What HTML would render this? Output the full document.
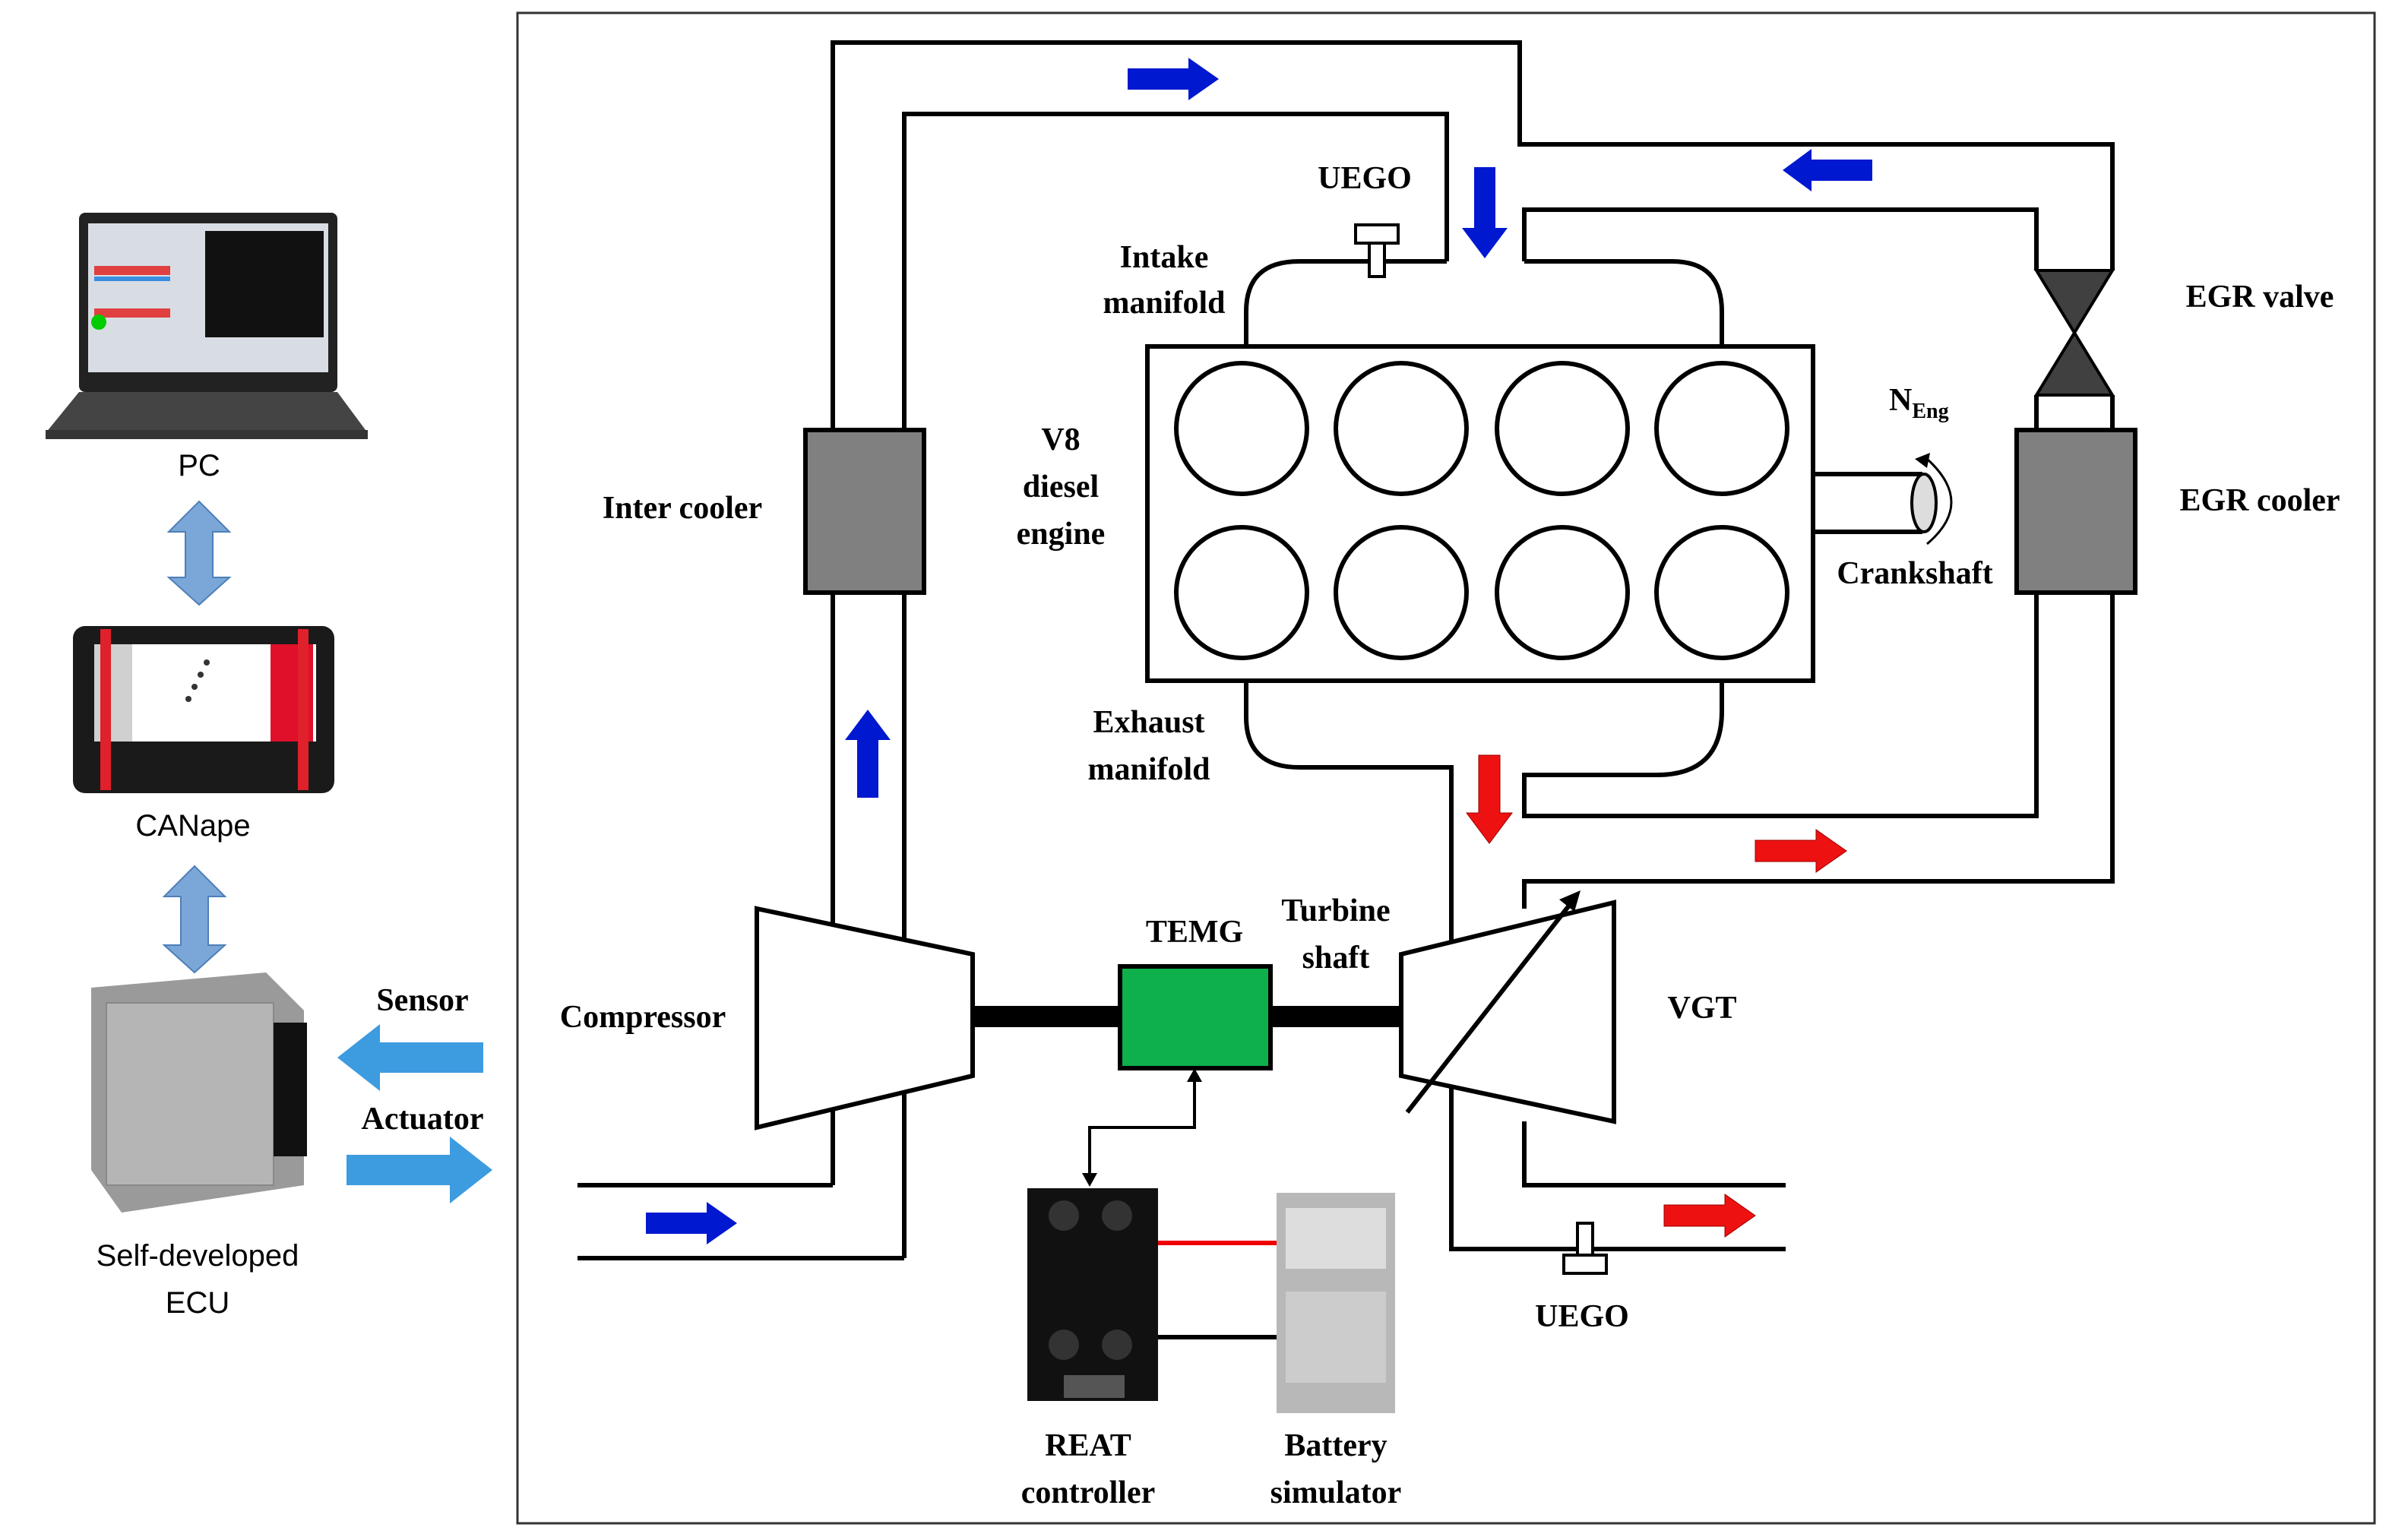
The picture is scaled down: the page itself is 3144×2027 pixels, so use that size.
<!DOCTYPE html>
<html><head><meta charset="utf-8"><style>html,body{margin:0;padding:0;background:#fff}svg{display:block}</style></head><body>
<svg width="3144" height="2027" viewBox="0 0 1572 1013.5" preserveAspectRatio="none" xmlns="http://www.w3.org/2000/svg" font-family="Liberation Serif, serif" font-weight="bold">
<rect x="0" y="0" width="1572" height="1014" fill="#fff"/>
<rect x="340.5" y="8.5" width="1222" height="994" fill="none" stroke="#333" stroke-width="1.5"/>
<g fill="none" stroke="#000" stroke-width="3">
<polyline points="548,780 548,28 1000,28 1000,95 1390,95 1390,178"/>
<polyline points="595,828 595,75 952,75 952,172"/>
<polyline points="1003,172 1003,138 1340,138 1340,178"/>
<path d="M820,228 L820,205 Q820,172 855,172 L952,172"/>
<path d="M1003,172 L1100,172 Q1133,172 1133,205 L1133,228"/>
<path d="M820,448 L820,472 Q820,505 855,505 L955,505 L955,822 L1175,822"/>
<path d="M1133,448 L1133,468 Q1133,510 1090,510 L1003,510 L1003,537 L1340,537 L1340,390"/>
<polyline points="1003,598 1003,580 1390,580 1390,390"/>
<polyline points="1003,738 1003,780 1175,780"/>
<line x1="380" y1="780" x2="548" y2="780"/>
<line x1="380" y1="828" x2="595" y2="828"/>
<line x1="1340" y1="260" x2="1340" y2="283"/>
<line x1="1390" y1="260" x2="1390" y2="283"/>
</g>
<rect x="530" y="283" width="78" height="107" fill="#808080" stroke="#000" stroke-width="3"/>
<rect x="1327" y="283" width="78" height="107" fill="#808080" stroke="#000" stroke-width="3"/>
<polygon points="1340,178 1390,178 1365,219 1390,260 1340,260 1365,219" fill="#404040" stroke="#000" stroke-width="2"/>
<rect x="755" y="228" width="438" height="220" fill="#fff" stroke="#000" stroke-width="3"/>
<g fill="none" stroke="#000" stroke-width="3">
<circle cx="817" cy="282" r="43"/><circle cx="922" cy="282" r="43"/><circle cx="1028" cy="282" r="43"/><circle cx="1133" cy="282" r="43"/>
<circle cx="817" cy="390" r="43"/><circle cx="922" cy="390" r="43"/><circle cx="1028" cy="390" r="43"/><circle cx="1133" cy="390" r="43"/>
<path d="M1193,312 L1265,312 M1193,350 L1265,350"/>
</g>
<ellipse cx="1266" cy="331" rx="8" ry="19" fill="#ddd" stroke="#000" stroke-width="2"/>
<path d="M1268,302 Q1300,331 1268,358" fill="none" stroke="#000" stroke-width="1.5"/>
<polygon points="1260,302 1270,298 1268,308" fill="#000"/>
<polygon points="498,598 640,628 640,708 498,742" fill="#fff" stroke="#000" stroke-width="3"/>
<polygon points="922,628 1062,594 1062,738 922,708" fill="#fff" stroke="#000" stroke-width="3"/>
<rect x="640" y="662" width="282" height="14" fill="#000"/>
<rect x="737" y="636" width="99" height="67" fill="#0db04b" stroke="#000" stroke-width="3"/>
<line x1="926" y1="732" x2="1034" y2="594" stroke="#000" stroke-width="3"/>
<polygon points="1040,586 1026,592 1036,600" fill="#000"/>
<polyline points="786,708 786,742 717,742 717,776" fill="none" stroke="#000" stroke-width="2"/>
<polygon points="786,703 781,712 791,712" fill="#000"/><polygon points="717,781 712,772 722,772" fill="#000"/>
<rect x="676" y="782" width="86" height="140" fill="#111"/>
<circle cx="700" cy="800" r="10" fill="#333"/><circle cx="735" cy="800" r="10" fill="#333"/>
<circle cx="700" cy="885" r="10" fill="#333"/><circle cx="735" cy="885" r="10" fill="#333"/>
<rect x="700" y="905" width="40" height="15" fill="#555"/>
<rect x="840" y="785" width="78" height="145" fill="#b8b8b8"/>
<rect x="846" y="795" width="66" height="40" fill="#ddd"/><rect x="846" y="850" width="66" height="60" fill="#ccc"/>
<line x1="762" y1="818" x2="840" y2="818" stroke="#e00" stroke-width="3"/>
<line x1="762" y1="880" x2="840" y2="880" stroke="#000" stroke-width="3"/>
<g fill="#fff" stroke="#000" stroke-width="2">
<rect x="892" y="148" width="28" height="12"/><rect x="901" y="160" width="10" height="22"/>
<rect x="1029" y="826" width="28" height="12"/><rect x="1038" y="805" width="10" height="21"/>
</g>
<g fill="#0018d0">
<polygon points="742,45 782,45 782,38 802,52 782,66 782,59 742,59"/>
<polygon points="1232,105 1192,105 1192,98 1173,112 1192,126 1192,119 1232,119"/>
<polygon points="970,110 984,110 984,150 992,150 977,170 962,150 970,150"/>
<polygon points="564,525 578,525 578,487 586,487 571,467 556,487 564,487"/>
<polygon points="425,798 465,798 465,791 485,805 465,819 465,812 425,812"/>
</g>
<g fill="#ee1111" stroke="#900" stroke-width="0.5">
<polygon points="973,497 987,497 987,535 995,535 980,555 965,535 973,535"/>
<polygon points="1155,553 1195,553 1195,546 1215,560 1195,574 1195,567 1155,567"/>
<polygon points="1095,793 1135,793 1135,786 1155,800 1135,814 1135,807 1095,807"/>
</g>
<g font-size="21" fill="#000" text-anchor="middle">
<text x="898" y="124">UEGO</text>
<text x="766" y="176">Intake</text><text x="766" y="206">manifold</text>
<text x="698" y="296">V8</text><text x="698" y="327">diesel</text><text x="698" y="358">engine</text>
<text x="449" y="341">Inter cooler</text>
<text x="1487" y="202">EGR valve</text>
<text x="1487" y="336">EGR cooler</text>
<text x="1260" y="384">Crankshaft</text>
<text x="756" y="482">Exhaust</text><text x="756" y="513">manifold</text>
<text x="879" y="606">Turbine</text><text x="879" y="637">shaft</text>
<text x="786" y="620">TEMG</text>
<text x="423" y="676">Compressor</text>
<text x="1120" y="670">VGT</text>
<text x="1041" y="873">UEGO</text>
<text x="716" y="958">REAT</text><text x="716" y="989">controller</text>
<text x="879" y="958">Battery</text><text x="879" y="989">simulator</text>
<text x="278" y="665">Sensor</text><text x="278" y="743">Actuator</text>
</g>
<text x="1243" y="270" font-size="21">N<tspan font-size="14" dy="5">Eng</tspan></text>
<!-- left panel -->
<rect x="52" y="140" width="170" height="118" rx="4" fill="#222"/>
<rect x="58" y="147" width="158" height="98" fill="#d8dde4"/>
<rect x="135" y="152" width="78" height="70" fill="#111"/>
<rect x="62" y="175" width="50" height="6" fill="#e04040"/><rect x="62" y="182" width="50" height="3" fill="#3a8ee0"/>
<rect x="62" y="203" width="50" height="6" fill="#e04040"/><circle cx="65" cy="212" r="5" fill="#0c0"/>
<polygon points="52,258 222,258 242,285 30,285" fill="#444"/>
<rect x="30" y="283" width="212" height="6" fill="#333"/>
<g fill="#000" font-family="Liberation Sans, sans-serif" font-weight="normal" font-size="20" text-anchor="middle">
<text x="131" y="313">PC</text><text x="127" y="550">CANape</text>
<text x="130" y="833">Self-developed</text><text x="130" y="864">ECU</text>
</g>
<g fill="#7ba7d8" stroke="#4d7fb8" stroke-width="1">
<polygon points="131,330 151,350 140,350 140,380 151,380 131,398 111,380 122,380 122,350 111,350"/>
<polygon points="128,570 148,590 137,590 137,622 148,622 128,640 108,622 119,622 119,590 108,590"/>
</g>
<!-- CANape device -->
<rect x="48" y="412" width="172" height="110" rx="8" fill="#1a1a1a"/>
<rect x="62" y="424" width="146" height="64" fill="#fff"/>
<rect x="62" y="424" width="25" height="64" fill="#d0d0d0"/>
<rect x="178" y="424" width="28" height="64" fill="#e0102a"/>
<rect x="66" y="414" width="7" height="106" fill="#e0202a"/>
<rect x="196" y="414" width="7" height="106" fill="#e0202a"/>
<circle cx="124" cy="460" r="2" fill="#333"/><circle cx="128" cy="452" r="2" fill="#333"/><circle cx="132" cy="444" r="2" fill="#333"/><circle cx="136" cy="436" r="2" fill="#333"/>
<polygon points="60,650 175,640 200,665 200,780 80,798 60,770" fill="#9a9a9a"/>
<rect x="70" y="660" width="110" height="120" fill="#b5b5b5" stroke="#888"/>
<rect x="180" y="673" width="22" height="88" fill="#111"/>
<g fill="#3d9bdf">
<polygon points="318,686 318,706 250,706 250,718 222,696 250,674 250,686"/>
<polygon points="228,760 228,780 296,780 296,792 324,770 296,748 296,760"/>
</g>
</svg>
</body></html>
